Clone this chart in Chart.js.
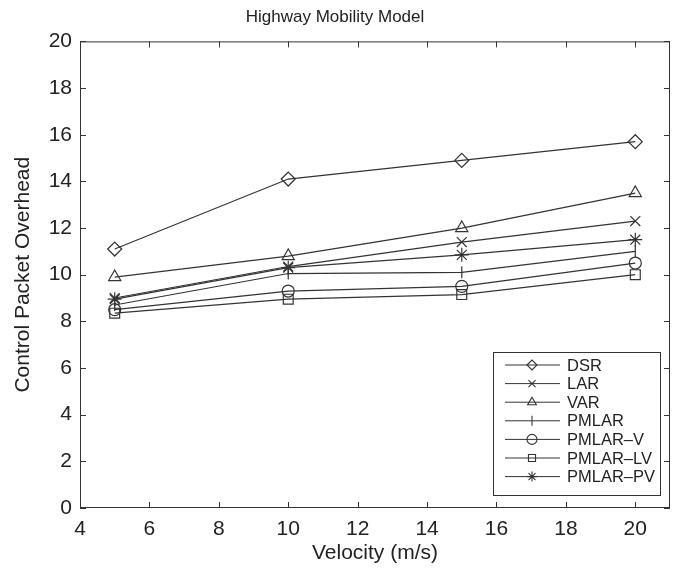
<!DOCTYPE html>
<html>
<head>
<meta charset="utf-8">
<script src="https://cdn.jsdelivr.net/npm/chart.js@4.4.0/dist/chart.umd.min.js"></script>
<style>
  html, body { margin: 0; padding: 0; background: #fff; }
  #wrap { width: 680px; height: 571px; }
</style>
</head>
<body>
<div id="wrap"><canvas id="c"></canvas></div>
<script>
const velocity = [5, 10, 15, 20];
const dsr = [11.1, 14.1, 14.9, 15.7];
const lar = [9.0, 10.35, 11.4, 12.3];
const varr = [9.9, 10.8, 12.0, 13.5];
const pmlar = [8.7, 10.05, 10.1, 11.0];
const pmlarV = [8.5, 9.3, 9.5, 10.5];
const pmlarLV = [8.35, 8.95, 9.15, 10.0];
const pmlarPV = [8.95, 10.3, 10.85, 11.5];

const seriesNames = ["DSR", "LAR", "VAR", "PMLAR", "PMLAR\u2013V", "PMLAR\u2013LV", "PMLAR\u2013PV"];
const seriesData = [dsr, lar, varr, pmlar, pmlarV, pmlarLV, pmlarPV];
const markers = ["rectRot", "crossRot", "triangle", "line", "circle", "rect", "star"];
const markerSize = [7, 7, 7, 6, 6, 7, 7];

const ink = "#333";
const font = "'Liberation Sans', Arial, sans-serif";

const ctx = document.getElementById("c");

// marker drawer for the legend
function drawMarker(g, style, x, y, r) {
    g.save();
    g.strokeStyle = ink;
    g.fillStyle = "rgba(0,0,0,0)";
    g.lineWidth = 1.1;
    Chart.helpers.drawPoint(g, { pointStyle: style, radius: r, rotation: style === "line" ? 90 : 0, borderWidth: 1.1 }, x, y);
    g.restore();
}

const boxPlugin = {
    id: "matlabBox",
    afterDatasetsDraw(chart) {
        const { ctx: g, chartArea: a, scales } = chart;
        g.save();
        g.strokeStyle = ink;
        g.lineWidth = 1;
        g.strokeRect(a.left + 0.5, a.top + 0.5, a.right - a.left - 1, a.bottom - a.top - 1);
        const t = 6;
        g.beginPath();
        scales.x.ticks.forEach(tk => {
            const px = Math.round(scales.x.getPixelForValue(tk.value)) + 0.5;
            g.moveTo(px, a.bottom); g.lineTo(px, a.bottom - t);
            g.moveTo(px, a.top); g.lineTo(px, a.top + t);
        });
        scales.y.ticks.forEach(tk => {
            const py = Math.round(scales.y.getPixelForValue(tk.value)) + 0.5;
            g.moveTo(a.left, py); g.lineTo(a.left + t, py);
            g.moveTo(a.right, py); g.lineTo(a.right - t, py);
        });
        g.stroke();

        // legend box
        const lx = 493, ly = 352, lw = 167, lh = 143;
        g.fillStyle = "#fff";
        g.fillRect(lx, ly, lw, lh);
        g.strokeRect(lx + 0.5, ly + 0.5, lw, lh);
        g.font = "16.5px " + font;
        g.textBaseline = "middle";
        seriesNames.forEach((name, i) => {
            const y = ly + 13 + i * 18.6;
            g.strokeStyle = ink;
            g.beginPath();
            g.moveTo(505, y); g.lineTo(560, y);
            g.stroke();
            drawMarker(g, markers[i], 532, y, Math.round(markerSize[i] * 0.75));
            g.fillStyle = "#222";
            g.fillText(name, 567, y + 1);
        });
        g.restore();
    }
};

new Chart(ctx, {
    type: "line",
    data: {
        labels: velocity,
        datasets: seriesNames.map((name, i) => ({
            label: name,
            data: velocity.map((v, j) => ({ x: v, y: seriesData[i][j] })),
            borderColor: ink,
            borderWidth: 1.2,
            pointStyle: markers[i],
            pointRotation: markers[i] === "line" ? 90 : 0,
            pointRadius: markerSize[i],
            pointBorderColor: ink,
            pointBorderWidth: 1.2,
            pointBackgroundColor: "rgba(0,0,0,0)",
            fill: false,
            tension: 0,
        })),
    },
    options: {
        responsive: true,
        maintainAspectRatio: false,
        animation: false,
        layout: { padding: { left: 0, right: 10, top: 0, bottom: 0 } },
        plugins: {
            legend: { display: false },
            tooltip: { enabled: false },
            title: {
                display: true,
                text: "Highway Mobility Model",
                color: "#222",
                font: { family: font, size: 17, weight: "normal" },
                padding: { top: 7, bottom: 14 },
            },
        },
        scales: {
            x: {
                type: "linear",
                min: 4,
                max: 21,
                grid: { display: false, drawTicks: false },
                border: { display: false },
                ticks: {
                    stepSize: 2,
                    includeBounds: false,
                    color: "#222",
                    padding: 9,
                    maxRotation: 0,
                    font: { family: font, size: 21 },
                },
                title: {
                    display: true,
                    text: "Velocity (m/s)",
                    color: "#222",
                    font: { family: font, size: 21 },
                    padding: { top: 0, bottom: 5 },
                },
                afterFit(scale) { scale.height = 63; },
            },
            y: {
                min: 0,
                max: 20,
                grid: { display: false, drawTicks: false },
                border: { display: false },
                ticks: {
                    stepSize: 2,
                    color: "#222",
                    padding: 8,
                    font: { family: font, size: 21 },
                },
                title: {
                    display: true,
                    text: "Control Packet Overhead",
                    color: "#222",
                    font: { family: font, size: 21 },
                    padding: { top: 11, bottom: 0 },
                },
                afterFit(scale) { scale.width = 80; },
            },
        },
    },
    plugins: [boxPlugin],
});
</script>
</body>
</html>
